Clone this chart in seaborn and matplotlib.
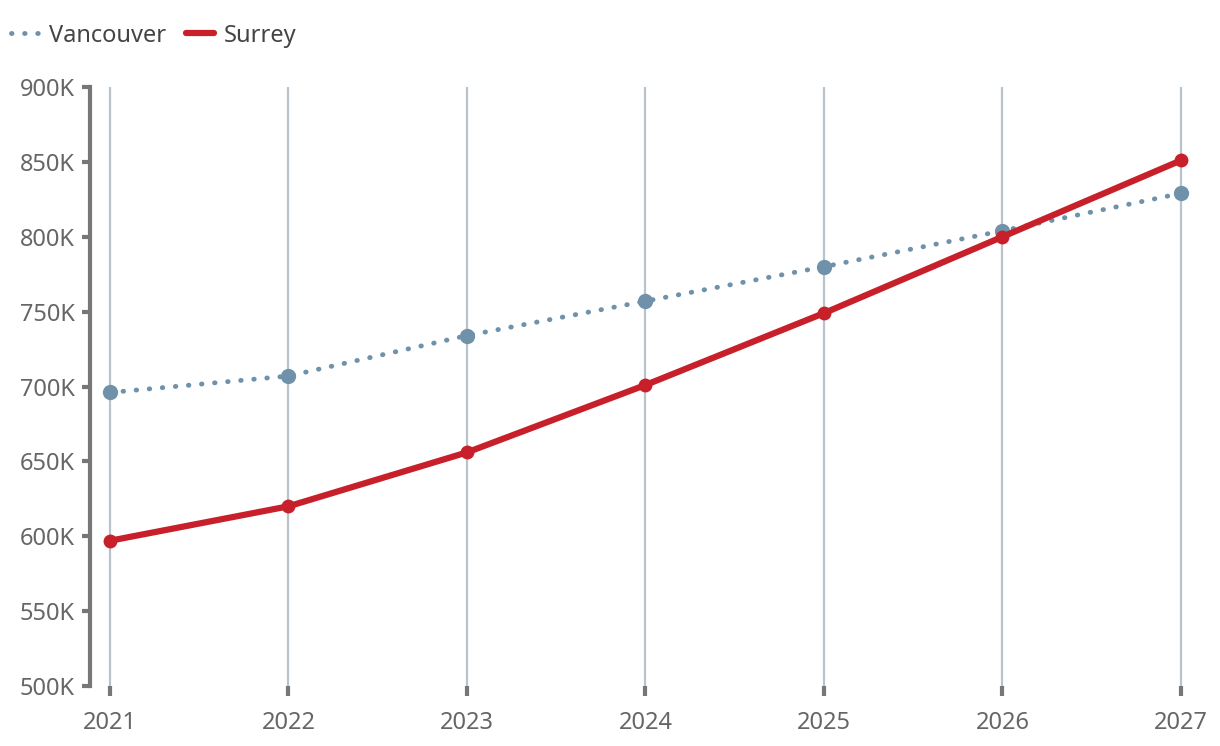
import pandas as pd
import numpy as np
import seaborn as sns
import matplotlib.pyplot as plt
from matplotlib.lines import Line2D
import matplotlib.ticker as ticker

years = [2021, 2022, 2023, 2024, 2025, 2026, 2027]
vancouver = [696, 707, 734, 757, 780, 804, 829]
surrey = [597, 620, 656, 701, 749, 800, 851]
y_ticks = [500, 550, 600, 650, 700, 750, 800, 850, 900]

df = pd.DataFrame({'year': years, 'Vancouver': vancouver, 'Surrey': surrey})

sns.set_style('white')
plt.rcParams['font.family'] = ['Noto Sans', 'DejaVu Sans']

van_color = '#6f92aa'
sur_color = '#c8202a'
txt_color = '#666666'
fs = 17

fig = plt.figure(figsize=(12.2, 7.46), dpi=100)
ax = fig.add_axes([90 / 1220, 1 - 686 / 746, 1100 / 1220, 599 / 746])

# vertical grid
for yr in years:
    ax.axvline(yr, color='#b9c3cc', lw=1.6, zorder=0)

sns.lineplot(data=df, x='year', y='Vancouver', ax=ax, color=van_color,
             lw=3.5, linestyle=(0, (0.1, 2.6)), dash_capstyle='round',
             marker='o', markersize=11, markeredgewidth=0, zorder=3)
sns.lineplot(data=df, x='year', y='Surrey', ax=ax, color=sur_color,
             lw=4.5, marker='o', markersize=10, markeredgewidth=0, zorder=4)

ax.set_xlim(2021 - 20 / 178.5, 2027 + 9 / 178.5)
ax.set_ylim(500, 900)
ax.set_xticks(years)
ax.set_yticks(y_ticks)
ax.yaxis.set_major_formatter(ticker.FuncFormatter(lambda v, p: '{:d}K'.format(int(v))))
ax.set_xlabel('')
ax.set_ylabel('')

for s in ['top', 'right', 'bottom']:
    ax.spines[s].set_visible(False)
ax.spines['left'].set_color('#777777')
ax.spines['left'].set_linewidth(3)

ax.tick_params(axis='y', length=6, width=3, color='#777777', pad=5,
               labelsize=fs, labelcolor=txt_color, left=True)
ax.tick_params(axis='x', length=7, width=3, color='#777777', pad=11,
               labelsize=fs, labelcolor=txt_color, bottom=True)

handles = [
    Line2D([], [], color=van_color, lw=3.5, linestyle=(0, (0.1, 2.6)), dash_capstyle='round'),
    Line2D([], [], color=sur_color, lw=4.5, solid_capstyle='round'),
]
leg = fig.legend(handles, ['Vancouver', 'Surrey'], loc='upper left',
                 bbox_to_anchor=(-0.01, 1.0), ncol=2, frameon=False,
                 fontsize=fs, handlelength=1.15, handletextpad=0.45,
                 columnspacing=0.85, borderaxespad=0.6)
for t in leg.get_texts():
    t.set_color('#444444')

fig.savefig('out.png', dpi=100)
